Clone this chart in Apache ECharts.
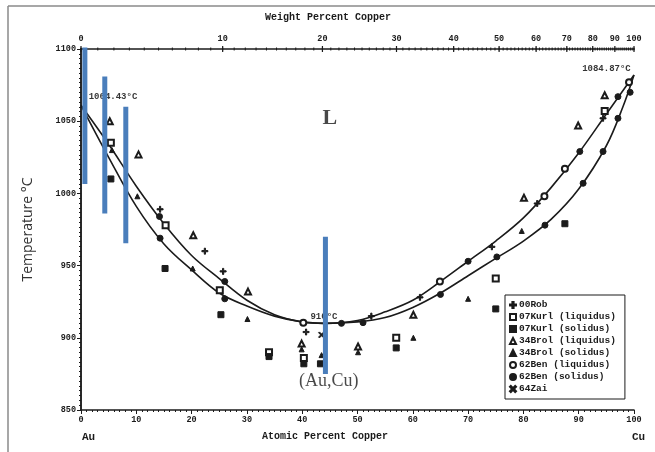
<!DOCTYPE html>
<html>
<head>
<meta charset="utf-8">
<script src="https://cdn.jsdelivr.net/npm/echarts@6/dist/echarts.min.js"></script>
<style>
html, body { margin: 0; padding: 0; background: #fff; }
#main { width: 655px; height: 452px; }
</style>
</head>
<body>
<div id="main"></div>
<script>
// x = atomic percent Cu, y = temperature in °C
var liquidus = [[0,1061],[5,1034],[10,1005],[15,979],[20,957],[25,941],[30,926],[35,916],[40,911],[44,910],[50,912],[55,918],[60,926],[65,939],[70,953],[75,967],[80,983],[85,1004],[90,1028],[95,1055],[100,1082]];
var solidus = [[0,1061],[5,1025],[10,991],[15,965],[20,947],[25,931],[30,922],[35,915],[40,911],[44,910],[50,911],[55,914],[60,921],[65,931],[70,943],[75,955],[80,967],[85,982],[90,1003],[95,1033],[98,1060],[100,1082]];

var rob = [[14.3,989],[22.4,960],[25.7,946],[40.7,904],[52.5,915],[61.3,928],[74.3,963],[82.5,993],[94.4,1052]];
var kurlLiq = [[5.4,1035],[15.3,978],[25.1,933],[34,890],[40.3,886],[57,900],[75,941],[94.7,1057]];
var kurlSol = [[5.4,1010],[15.2,948],[25.3,916],[34,887],[40.3,882],[43.3,882],[57,893],[75,920],[87.5,979]];
var broLiq = [[5.2,1050],[10.4,1027],[20.3,971],[30.2,932],[39.9,896],[50.1,894],[60.1,916],[80.1,997],[89.9,1047],[94.7,1068]];
var broSol = [[5.6,1030],[10.2,998],[20.2,948],[30.1,913],[39.9,892],[43.5,888],[50.1,890],[60.1,900],[70,927],[79.7,974]];
var benLiq = [[40.2,910.5],[64.9,939],[83.8,998],[87.5,1017],[99.1,1077]];
var benSol = [[14.3,969],[14.2,984],[26,939],[26,927],[47.1,910],[51,910.5],[65,930],[70,953],[75.2,956],[83.9,978],[90.2,1029],[90.8,1007],[94.4,1029],[97.1,1067],[97.1,1052],[99.3,1070]];
var zai = [[43.5,902]];

// blue marker bars: [x, top, bottom]
var blueBars = [[0.7,1101,1006.5],[4.3,1081,986],[8.1,1060,965.5],[44.2,970,875]];

var wtLabels = [0,10,20,30,40,50,60,70,80,90,100];

// weight % Cu -> atomic % Cu (Au 196.967, Cu 63.546)
function atPct(w) {
    var cu = w / 63.546, au = (100 - w) / 196.967;
    return 100 * cu / (cu + au);
}

var mono = '"Liberation Mono", "DejaVu Sans Mono", monospace';
var ink = '#1b1b1b';

var wtMinor = [];
for (var w = 0; w <= 100; w++) wtMinor.push([atPct(w), 1100]);
var wtMajor = wtLabels.map(function (v) { return { value: [atPct(v), 1100], name: String(v) }; });

var plus = 'path://M4,0H6V4H10V6H6V10H4V6H0V4H4Z';
var cross = 'path://M1.4,0L5,3.6L8.6,0L10,1.4L6.4,5L10,8.6L8.6,10L5,6.4L1.4,10L0,8.6L3.6,5L0,1.4Z';

function pts(name, data, symbol, size) {
    return {
        name: name, type: 'scatter', data: data, symbol: symbol, symbolSize: size,
        itemStyle: { color: ink, borderColor: ink, borderWidth: 1, opacity: 1 }, z: 4
    };
}

var serif = '"Liberation Serif", "DejaVu Serif", serif';

var series = [
    { name: 'liquidus', type: 'line', data: liquidus, smooth: 0.35, symbol: 'none',
      lineStyle: { color: ink, width: 1.6 }, z: 3 },
    { name: 'solidus', type: 'line', data: solidus, smooth: 0.35, symbol: 'none',
      lineStyle: { color: ink, width: 1.6 }, z: 3 },
    pts('00Rob', rob, plus, 6),
    pts('07Kurl (liquidus)', kurlLiq, 'emptyRect', 6),
    pts('07Kurl (solidus)', kurlSol, 'rect', 6),
    pts('34Brol (liquidus)', broLiq, 'emptyTriangle', 6),
    pts('34Brol (solidus)', broSol, 'triangle', 5),
    pts('62Ben (liquidus)', benLiq, 'emptyCircle', 6),
    pts('62Ben (solidus)', benSol, 'circle', 6),
    pts('64Zai', zai, cross, 6),
    { name: 'wtMinor', type: 'scatter', data: wtMinor, symbol: 'rect', symbolSize: [1, 3],
      itemStyle: { color: ink, opacity: 1 }, clip: false, silent: true },
    { name: 'wtMajor', type: 'scatter', data: wtMajor, symbol: 'rect', symbolSize: [1.2, 6],
      itemStyle: { color: ink, opacity: 1 }, clip: false, silent: true,
      label: { show: true, position: 'top', distance: 3, formatter: '{b}',
               fontFamily: mono, fontWeight: 'bold', fontSize: 8.5, color: ink } },
    { name: 'notes', type: 'scatter', symbolSize: 1, itemStyle: { color: 'rgba(0,0,0,0)' },
      clip: false, silent: true, z: 5,
      data: [
        { value: [1.3, 1067], label: { formatter: '1064.43°C', position: 'right', distance: 0 } },
        { value: [99.5, 1086], label: { formatter: '1084.87°C', position: 'left', distance: 0 } },
        { value: [41.4, 914.5], label: { formatter: '910°C', position: 'right', distance: 0 } },
        { value: [45, 1052], label: { formatter: 'L', position: 'inside', fontFamily: serif,
                                      fontWeight: 'bold', fontSize: 22, color: '#1a1a1a' } },
        { value: [44.8, 870], label: { formatter: '(Au,Cu)', position: 'inside', fontFamily: serif,
                                       fontWeight: 'normal', fontSize: 18, color: '#1a1a1a' } }
      ],
      label: { show: true, fontFamily: mono, fontWeight: 'bold', fontSize: 9, color: '#000' } }
];

blueBars.forEach(function (b) {
    series.push({ name: 'bar', type: 'line', data: [[b[0], b[1]], [b[0], b[2]]], symbol: 'none', clip: false,
                  silent: true, lineStyle: { color: '#4a7ebb', width: 5, cap: 'butt' }, z: 10 });
});

var tickFont = { fontFamily: mono, fontWeight: 'bold', fontSize: 8.5, color: ink };
var plain = function (v) { return String(v); };

var option = {
    animation: false,
    backgroundColor: '#fff',
    grid: { left: 81, right: 21, top: 49, bottom: 42 },
    xAxis: [
        { type: 'value', min: 0, max: 100, interval: 10, position: 'bottom',
          axisLine: { lineStyle: { color: ink, width: 1.5 } },
          axisTick: { length: 4, lineStyle: { color: ink } },
          minorTick: { show: true, splitNumber: 10, length: 2, lineStyle: { color: ink } },
          axisLabel: Object.assign({ margin: 5, formatter: plain }, tickFont),
          splitLine: { show: false } },
        { type: 'value', min: 0, max: 100, position: 'top',
          axisLine: { lineStyle: { color: ink, width: 1.5 } },
          axisTick: { show: false }, axisLabel: { show: false }, splitLine: { show: false } }
    ],
    yAxis: [
        { type: 'value', min: 850, max: 1100, interval: 50, position: 'left',
          name: 'Temperature °C', nameLocation: 'middle', nameGap: 46,
          nameTextStyle: { fontFamily: '"Open Sans", sans-serif', fontSize: 14, color: '#333' },
          axisLine: { lineStyle: { color: ink, width: 1.5 } },
          axisTick: { length: 4, lineStyle: { color: ink } },
          minorTick: { show: true, splitNumber: 15, length: 2, lineStyle: { color: ink } },
          axisLabel: Object.assign({ margin: 5, formatter: plain }, tickFont),
          splitLine: { show: false } },
        { type: 'value', min: 850, max: 1100, interval: 50, position: 'right',
          axisLine: { lineStyle: { color: ink, width: 1.5 } },
          axisTick: { inside: true, length: 4, lineStyle: { color: ink } },
          minorTick: { show: true, splitNumber: 15, length: 2, lineStyle: { color: ink } },
          axisLabel: { show: false }, splitLine: { show: false } }
    ],
    legend: {
        data: ['00Rob', '07Kurl (liquidus)', '07Kurl (solidus)', '34Brol (liquidus)', '34Brol (solidus)',
               '62Ben (liquidus)', '62Ben (solidus)', '64Zai'],
        orient: 'vertical', left: 505, top: 295,
        itemWidth: 6, itemHeight: 6, itemGap: 2, padding: [5, 9, 5, 4],
        borderColor: ink, borderWidth: 1, backgroundColor: '#fff', selectedMode: false,
        textStyle: { fontFamily: mono, fontWeight: 'bold', fontSize: 9.5, color: ink, lineHeight: 10, padding: [0, 0, 0, -2] }
    },
    graphic: [
        { type: 'line', shape: { x1: 8, y1: 6, x2: 8, y2: 452 }, style: { stroke: '#8a8a8a', lineWidth: 1.5 } },
        { type: 'line', shape: { x1: 8, y1: 6, x2: 655, y2: 6 }, style: { stroke: '#8a8a8a', lineWidth: 1.5 } },
        { type: 'text', left: 265, top: 12,
          style: { text: 'Weight Percent Copper', font: 'bold 10px ' + mono, fill: ink } },
        { type: 'text', left: 262, top: 431,
          style: { text: 'Atomic Percent Copper', font: 'bold 10px ' + mono, fill: ink } },
        { type: 'text', left: 82, top: 432, style: { text: 'Au', font: 'bold 11px ' + mono, fill: ink } },
        { type: 'text', left: 632, top: 432, style: { text: 'Cu', font: 'bold 11px ' + mono, fill: ink } }
    ],
    series: series
};

var myChart = echarts.init(document.getElementById('main'));
myChart.setOption(option);
window.onresize = myChart.resize;
</script>
</body>
</html>
